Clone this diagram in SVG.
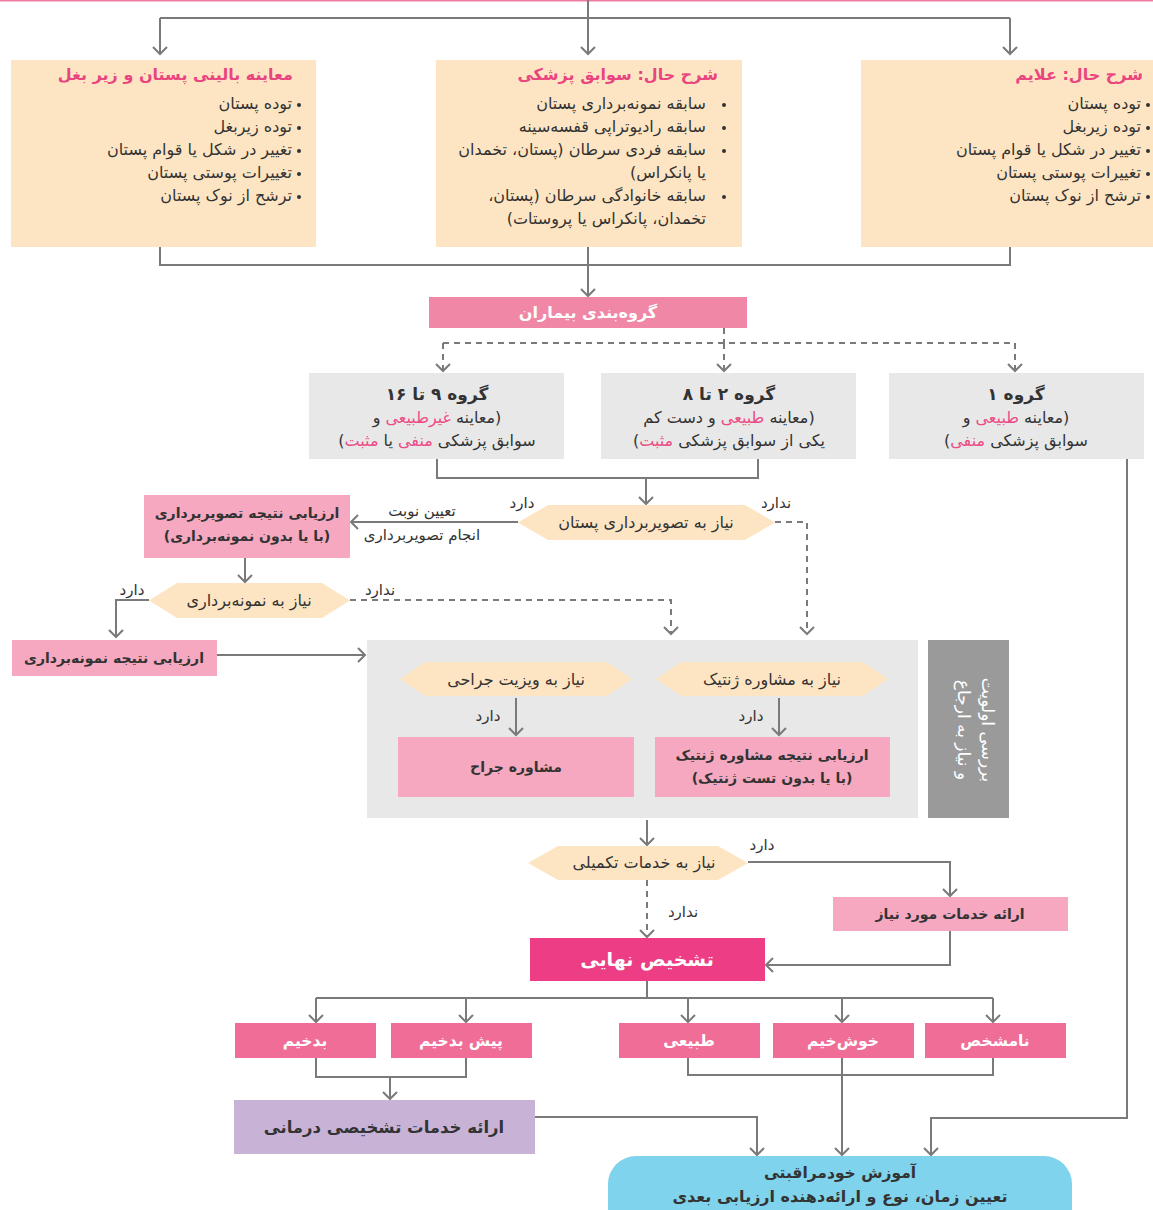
<svg xmlns="http://www.w3.org/2000/svg" width="1153" height="1210" viewBox="0 0 1153 1210">
<defs>
<marker id="arr" markerWidth="16" markerHeight="16" viewBox="0 0 16 16" refX="13" refY="8" orient="auto" markerUnits="userSpaceOnUse">
<path d="M6,1 L13,8 L6,15" fill="none" stroke="#7a7a7a" stroke-width="2"/>
</marker>
<style>
text{font-family:"DejaVu Sans","Noto Sans",sans-serif;fill:#333;}
.rtl{direction:rtl;}
.t{font-size:16px;font-weight:bold;fill:#e9457f;}
.b{font-size:16px;}
.s{font-size:15px;}
.bb{font-size:14px;font-weight:bold;}
.bold{font-weight:bold;}
.pk{fill:#ec4b86;}
.w{fill:#fff;}
.peach{fill:#fde5c3;}
.gray{fill:#e8e8e8;}
.lp{fill:#f5a8bf;}
.mp{fill:#f06d97;}
.c{fill:none;stroke:#7a7a7a;stroke-width:2;}
.d{stroke-dasharray:6 5;}
.m{marker-end:url(#arr);}
</style>
</defs>
<rect x="0" y="0" width="1153" height="1210" fill="#fff"/>
<line x1="0" y1="0.5" x2="1153" y2="0.5" stroke="#f07aa5" stroke-width="2"/>

<g id="priority-area">
<rect class="gray" x="367" y="640" width="551" height="178"/>
<rect x="928" y="640" width="81" height="178" fill="#9a9a9b"/>
<text class="rtl w" transform="translate(982,730) rotate(90)" text-anchor="middle" font-size="17">بررسی اولویت</text>
<text class="rtl w" transform="translate(958,730) rotate(90)" text-anchor="middle" font-size="17">و نیاز به ارجاع</text>
</g>

<g id="connectors">
<path class="c" d="M160,18 H1010"/>
<path class="c m" d="M160,18 V54"/>
<path class="c m" d="M1010,18 V54"/>
<path class="c m" d="M588,0 V54"/>
<path class="c" d="M160,247 V265 H1010 V247"/>
<path class="c m" d="M588,247 V296"/>
<path class="c d" d="M724,328 V343"/>
<path class="c d" d="M443,343 H1015"/>
<path class="c d m" d="M443,343 V371"/>
<path class="c d m" d="M724,343 V371"/>
<path class="c d m" d="M1015,343 V371"/>
<path class="c" d="M437,459 V478 H758 V459"/>
<path class="c m" d="M646,478 V504"/>
<path class="c m" d="M1127,459 V1118 H931 V1155"/>
<path class="c m" d="M518,522 H351"/>
<path class="c d m" d="M775,522 H807 V634"/>
<path class="c m" d="M245,558 V582"/>
<path class="c m" d="M149,600 H116 V637"/>
<path class="c d m" d="M350,600 H671 V634"/>
<path class="c m" d="M217,655 H365"/>
<path class="c m" d="M516,698 V735"/>
<path class="c m" d="M779,698 V735"/>
<path class="c m" d="M647,820 V845"/>
<path class="c m" d="M748,862 H950 V896"/>
<path class="c d m" d="M647,880 V937"/>
<path class="c m" d="M950,931 V965 H766"/>
<path class="c" d="M647,981 V998"/>
<path class="c" d="M316,998 H993"/>
<path class="c m" d="M316,998 V1022"/>
<path class="c m" d="M466,998 V1022"/>
<path class="c m" d="M688,998 V1022"/>
<path class="c m" d="M842,998 V1022"/>
<path class="c m" d="M993,998 V1022"/>
<path class="c" d="M316,1058 V1077 H466 V1058"/>
<path class="c m" d="M390,1077 V1099"/>
<path class="c" d="M688,1058 V1075 H993 V1058"/>
<path class="c m" d="M842,1058 V1155"/>
<path class="c m" d="M535,1117 H757 V1155"/>
</g>

<g id="exam">
<rect class="peach" x="11" y="60" width="305" height="187"/>
<text class="t rtl" x="293" y="80" text-anchor="start">معاینه بالینی پستان و زیر بغل</text>
<text class="rtl b" x="292" y="109" text-anchor="start">توده پستان</text>
<text class="rtl b" x="292" y="132" text-anchor="start">توده زیربغل</text>
<text class="rtl b" x="292" y="155" text-anchor="start">تغییر در شکل یا قوام پستان</text>
<text class="rtl b" x="292" y="178" text-anchor="start">تغییرات پوستی پستان</text>
<text class="rtl b" x="292" y="201" text-anchor="start">ترشح از نوک پستان</text>
<circle cx="299" cy="105" r="2" fill="#333"/><circle cx="299" cy="128" r="2" fill="#333"/><circle cx="299" cy="151" r="2" fill="#333"/><circle cx="299" cy="174" r="2" fill="#333"/><circle cx="299" cy="197" r="2" fill="#333"/>
</g>

<g id="history">
<rect class="peach" x="436" y="60" width="306" height="187"/>
<text class="t rtl" x="718" y="80" text-anchor="start">شرح حال: سوابق پزشکی</text>
<text class="rtl b" x="706" y="109" text-anchor="start">سابقه نمونه‌برداری پستان</text>
<text class="rtl b" x="706" y="132" text-anchor="start">سابقه رادیوتراپی قفسه‌سینه</text>
<text class="rtl b" x="706" y="155" text-anchor="start">سابقه فردی سرطان (پستان، تخمدان</text>
<text class="rtl b" x="706" y="178" text-anchor="start">یا پانکراس)</text>
<text class="rtl b" x="706" y="201" text-anchor="start">سابقه خانوادگی سرطان (پستان،</text>
<text class="rtl b" x="706" y="224" text-anchor="start">تخمدان، پانکراس یا پروستات)</text>
<circle cx="724" cy="105" r="2" fill="#333"/><circle cx="724" cy="128" r="2" fill="#333"/><circle cx="724" cy="151" r="2" fill="#333"/><circle cx="724" cy="197" r="2" fill="#333"/>
</g>

<g id="symptoms">
<rect class="peach" x="861" y="60" width="292" height="187"/>
<text class="t rtl" x="1143" y="80" text-anchor="start">شرح حال: علایم</text>
<text class="rtl b" x="1141" y="109" text-anchor="start">توده پستان</text>
<text class="rtl b" x="1141" y="132" text-anchor="start">توده زیربغل</text>
<text class="rtl b" x="1141" y="155" text-anchor="start">تغییر در شکل یا قوام پستان</text>
<text class="rtl b" x="1141" y="178" text-anchor="start">تغییرات پوستی پستان</text>
<text class="rtl b" x="1141" y="201" text-anchor="start">ترشح از نوک پستان</text>
<circle cx="1148" cy="105" r="2" fill="#333"/><circle cx="1148" cy="128" r="2" fill="#333"/><circle cx="1148" cy="151" r="2" fill="#333"/><circle cx="1148" cy="174" r="2" fill="#333"/><circle cx="1148" cy="197" r="2" fill="#333"/>
</g>

<g id="grouping">
<rect x="429" y="297" width="318" height="31" fill="#f087a6"/>
<text class="rtl w bold" x="588" y="318" text-anchor="middle" font-size="16">گروه‌بندی بیماران</text>
</g>

<g id="group9-16">
<rect class="gray" x="309" y="373" width="255" height="86"/>
<text class="rtl bold" x="437" y="400" text-anchor="middle" font-size="17">گروه ۹ تا ۱۶</text>
<text class="rtl b" x="437" y="423" text-anchor="middle">(معاینه <tspan class="pk">غیرطبیعی</tspan> و</text>
<text class="rtl b" x="437" y="446" text-anchor="middle">سوابق پزشکی <tspan class="pk">منفی</tspan> یا <tspan class="pk">مثبت</tspan>)</text>
</g>

<g id="group2-8">
<rect class="gray" x="601" y="373" width="255" height="86"/>
<text class="rtl bold" x="729" y="400" text-anchor="middle" font-size="17">گروه ۲ تا ۸</text>
<text class="rtl b" x="729" y="423" text-anchor="middle">(معاینه <tspan class="pk">طبیعی</tspan> و دست کم</text>
<text class="rtl b" x="729" y="446" text-anchor="middle">یکی از سوابق پزشکی <tspan class="pk">مثبت</tspan>)</text>
</g>

<g id="group1">
<rect class="gray" x="889" y="373" width="255" height="86"/>
<text class="rtl bold" x="1016" y="400" text-anchor="middle" font-size="17">گروه ۱</text>
<text class="rtl b" x="1016" y="423" text-anchor="middle">(معاینه <tspan class="pk">طبیعی</tspan> و</text>
<text class="rtl b" x="1016" y="446" text-anchor="middle">سوابق پزشکی <tspan class="pk">منفی</tspan>)</text>
</g>

<g id="need-imaging">
<polygon class="peach" points="518,522.5 548,505 745,505 775,522.5 745,540 548,540"/>
<text class="rtl b" x="646" y="528" text-anchor="middle">نیاز به تصویربرداری پستان</text>
<text class="rtl s" x="522" y="508" text-anchor="middle">دارد</text>
<text class="rtl s" x="776" y="508" text-anchor="middle">ندارد</text>
<text class="rtl s" x="422" y="516" text-anchor="middle">تعیین نوبت</text>
<text class="rtl s" x="422" y="540" text-anchor="middle">انجام تصویربرداری</text>
</g>

<g id="imaging-result">
<rect class="lp" x="144" y="495" width="206" height="63"/>
<text class="rtl bb" x="247" y="518" text-anchor="middle">ارزیابی نتیجه تصویربرداری</text>
<text class="rtl bb" x="247" y="541" text-anchor="middle">(با یا بدون نمونه‌برداری)</text>
</g>

<g id="need-sampling">
<polygon class="peach" points="149,600.5 177,583 322,583 350,600.5 322,618 177,618"/>
<text class="rtl b" x="249" y="606" text-anchor="middle">نیاز به نمونه‌برداری</text>
<text class="rtl s" x="132" y="595" text-anchor="middle">دارد</text>
<text class="rtl s" x="380" y="595" text-anchor="middle">ندارد</text>
</g>

<g id="sampling-result">
<rect class="lp" x="12" y="640" width="205" height="36"/>
<text class="rtl bb" x="114" y="663" text-anchor="middle">ارزیابی نتیجه نمونه‌برداری</text>
</g>

<g id="need-surgery">
<polygon class="peach" points="400,679 425,662 607,662 632,679 607,696 425,696"/>
<text class="rtl b" x="516" y="685" text-anchor="middle">نیاز به ویزیت جراحی</text>
<text class="rtl s" x="488" y="721" text-anchor="middle">دارد</text>
</g>

<g id="need-genetic">
<polygon class="peach" points="656,679 681,662 863,662 888,679 863,696 681,696"/>
<text class="rtl b" x="772" y="685" text-anchor="middle">نیاز به مشاوره ژنتیک</text>
<text class="rtl s" x="751" y="721" text-anchor="middle">دارد</text>
</g>

<g id="surgeon">
<rect class="lp" x="398" y="737" width="236" height="60"/>
<text class="rtl bb" x="516" y="772" text-anchor="middle">مشاوره جراح</text>
</g>

<g id="genetic-result">
<rect class="lp" x="655" y="737" width="235" height="60"/>
<text class="rtl bb" x="772" y="760" text-anchor="middle">ارزیابی نتیجه مشاوره ژنتیک</text>
<text class="rtl bb" x="772" y="783" text-anchor="middle">(با یا بدون تست ژنتیک)</text>
</g>

<g id="need-services">
<polygon class="peach" points="528,863 558,846 718,846 748,863 718,880 558,880"/>
<text class="rtl b" x="644" y="868" text-anchor="middle">نیاز به خدمات تکمیلی</text>
<text class="rtl s" x="762" y="850" text-anchor="middle">دارد</text>
<text class="rtl s" x="683" y="917" text-anchor="middle">ندارد</text>
</g>

<g id="services">
<rect class="lp" x="833" y="897" width="235" height="34"/>
<text class="rtl bb" x="950" y="919" text-anchor="middle">ارائه خدمات مورد نیاز</text>
</g>

<g id="final-diagnosis">
<rect x="530" y="938" width="235" height="43" fill="#ec3d85"/>
<text class="rtl w bold" x="647" y="966" text-anchor="middle" font-size="19">تشخیص نهایی</text>
</g>

<g id="malignant">
<rect class="mp" x="235" y="1023" width="141" height="35"/>
<text class="rtl w bold" x="305" y="1046" text-anchor="middle" font-size="15.5">بدخیم</text>
</g>
<g id="premalignant">
<rect class="mp" x="391" y="1023" width="141" height="35"/>
<text class="rtl w bold" x="461" y="1046" text-anchor="middle" font-size="15.5">پیش بدخیم</text>
</g>
<g id="normal">
<rect class="mp" x="619" y="1023" width="141" height="35"/>
<text class="rtl w bold" x="689" y="1046" text-anchor="middle" font-size="15.5">طبیعی</text>
</g>
<g id="benign">
<rect class="mp" x="773" y="1023" width="141" height="35"/>
<text class="rtl w bold" x="843" y="1046" text-anchor="middle" font-size="15.5">خوش‌خیم</text>
</g>
<g id="unknown">
<rect class="mp" x="925" y="1023" width="141" height="35"/>
<text class="rtl w bold" x="995" y="1046" text-anchor="middle" font-size="15.5">نامشخص</text>
</g>

<g id="treatment">
<rect x="234" y="1100" width="301" height="54" fill="#c8b3d7"/>
<text class="rtl bold" x="384" y="1133" text-anchor="middle" font-size="16.5">ارائه خدمات تشخیصی درمانی</text>
</g>

<g id="self-care">
<rect x="608" y="1156" width="464" height="90" rx="28" fill="#7fd3ec"/>
<text class="rtl bold" x="840" y="1178" text-anchor="middle" font-size="15.5">آموزش خودمراقبتی</text>
<text class="rtl bold" x="840" y="1202" text-anchor="middle" font-size="16">تعیین زمان، نوع و ارائه‌دهنده ارزیابی بعدی</text>
</g>
</svg>
